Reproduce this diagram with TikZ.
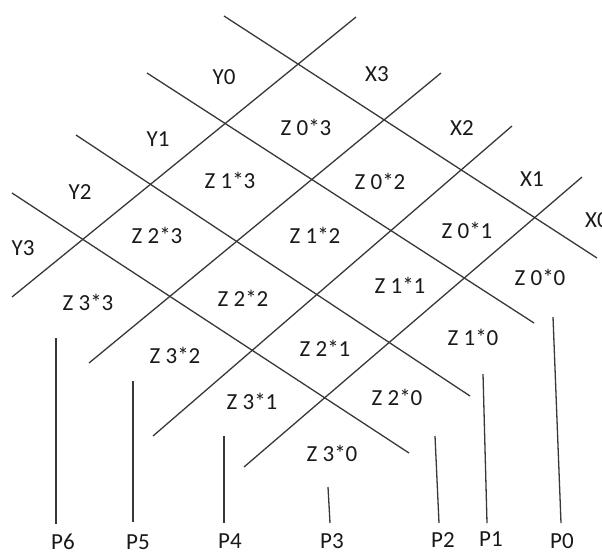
\documentclass[tikz,border=0pt]{standalone}
\usepackage{fontspec}
\setmainfont{Carlito}
\begin{document}
\begin{tikzpicture}[x=1pt,y=-1pt,
  gridline/.style={draw=black!78,line width=1.3pt},
  lbl/.style={inner sep=0pt,text=black!90,font=\fontsize{23}{27}\selectfont}]
\useasboundingbox (0,0) rectangle (602,555);
% down-right lines
\coordinate (d1a) at (224,16);  \coordinate (d1b) at (597,258);
\coordinate (d2a) at (147,73);  \coordinate (d2b) at (534,323);
\coordinate (d3a) at (76,135);  \coordinate (d3b) at (470,396);
\coordinate (d4a) at (12,193);  \coordinate (d4b) at (409,453);
% up-right lines
\coordinate (u1a) at (12,297);  \coordinate (u1b) at (356,17);
\coordinate (u2a) at (89,363);  \coordinate (u2b) at (441,73);
\coordinate (u3a) at (153,436); \coordinate (u3b) at (512,126);
\coordinate (u4a) at (244,467); \coordinate (u4b) at (582,177);
\foreach \i in {1,2,3,4}{
  \draw[gridline] (d\i a) -- (d\i b);
  \draw[gridline] (u\i a) -- (u\i b);
}
% labels Y and X
\node[lbl] (y0) at (224,77) {Y0};
\node[lbl] (y1) at (158,139) {Y1};
\node[lbl] (y2) at (80,192) {Y2};
\node[lbl] (y3) at (23,248) {Y3};
\node[lbl] (x3) at (377,74) {X3};
\node[lbl] (x2) at (462,128) {X2};
\node[lbl] (x1) at (532,179) {X1};
\node[lbl,anchor=west] (x0) at (585,220) {X0};
% cells
\node[lbl] (z03) at (306,127) {Z 0*3};
\node[lbl] (z02) at (380,181) {Z 0*2};
\node[lbl] (z01) at (467,230) {Z 0*1};
\node[lbl] (z00) at (540,277) {Z 0*0};
\node[lbl] (z13) at (230,180) {Z 1*3};
\node[lbl] (z12) at (315,235) {Z 1*2};
\node[lbl] (z11) at (400,285) {Z 1*1};
\node[lbl] (z10) at (473,337) {Z 1*0};
\node[lbl] (z23) at (157,235) {Z 2*3};
\node[lbl] (z22) at (243,298) {Z 2*2};
\node[lbl] (z21) at (325,348) {Z 2*1};
\node[lbl] (z20) at (397,397) {Z 2*0};
\node[lbl] (z33) at (88,302) {Z 3*3};
\node[lbl] (z32) at (175,355) {Z 3*2};
\node[lbl] (z31) at (252,401) {Z 3*1};
\node[lbl] (z30) at (332,453) {Z 3*0};
% P lines and labels
\coordinate (p6t) at (56,338);  \coordinate (p6b) at (56,524);
\coordinate (p5t) at (133,381); \coordinate (p5b) at (133,522);
\coordinate (p4t) at (224,436); \coordinate (p4b) at (224,523);
\coordinate (p3t) at (328,487); \coordinate (p3b) at (330,523);
\coordinate (p2t) at (435,436); \coordinate (p2b) at (439,523);
\coordinate (p1t) at (483,374); \coordinate (p1b) at (487,523);
\coordinate (p0t) at (553,317); \coordinate (p0b) at (561,523);
\foreach \i in {0,...,6}{ \draw[gridline] (p\i t) -- (p\i b); }
\node[lbl] (P6) at (63,542) {P6};
\node[lbl] (P5) at (138,542) {P5};
\node[lbl] (P4) at (230,541) {P4};
\node[lbl] (P3) at (332,541) {P3};
\node[lbl] (P2) at (443,540) {P2};
\node[lbl] (P1) at (491,539) {P1};
\node[lbl] (P0) at (562,541) {P0};
\end{tikzpicture}
\end{document}
